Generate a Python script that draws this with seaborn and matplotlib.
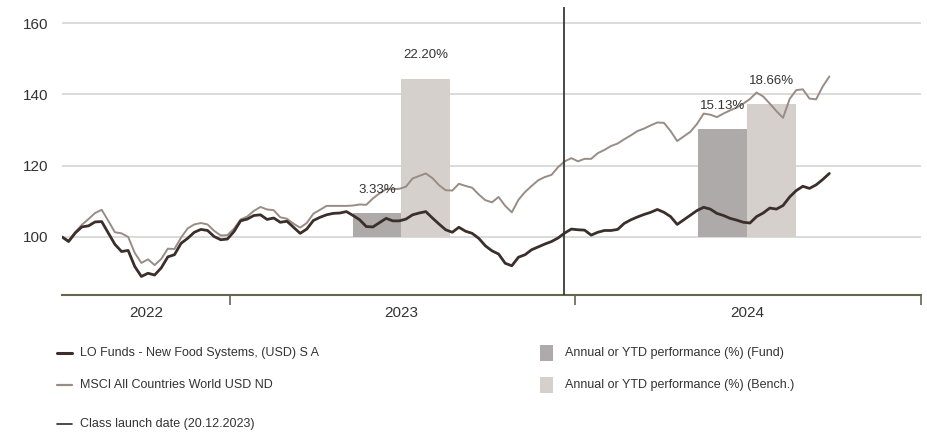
import pandas as pd
import matplotlib.pyplot as plt
from matplotlib.lines import Line2D
from matplotlib.patches import Rectangle
import seaborn as sns

# weekly rebased values (start = 100)
start_date = '2022-07-07'
fund_values = [
    100.0, 98.7, 101.1, 102.8, 103.1, 104.2, 104.3, 101.1, 97.9, 95.9,
    96.2, 91.7, 88.9, 89.8, 89.3, 91.3, 94.4, 95.0, 98.2, 99.6,
    101.3, 102.1, 101.8, 100.1, 99.2, 99.4, 101.5, 104.5, 105.0, 106.0,
    106.2, 104.9, 105.3, 104.1, 104.4, 102.7, 101.0, 102.2, 104.6, 105.5,
    106.2, 106.6, 106.7, 107.1, 106.0, 104.8, 102.9, 102.8, 104.0, 105.2,
    104.5, 104.5, 105.0, 106.2, 106.7, 107.1, 105.3, 103.6, 102.0, 101.3,
    102.7, 101.6, 101.0, 99.6, 97.5, 96.1, 95.2, 92.6, 91.9, 94.3,
    95.0, 96.4, 97.2, 98.0, 98.7, 99.7, 101.1, 102.2, 102.0, 101.9,
    100.5, 101.3, 101.8, 101.8, 102.1, 103.8, 104.8, 105.6, 106.3, 106.9,
    107.7, 106.9, 105.7, 103.5, 104.8, 106.1, 107.4, 108.3, 107.8, 106.6,
    106.0, 105.2, 104.7, 104.1, 103.9, 105.7, 106.7, 108.1, 107.8, 108.8,
    111.2, 113.0, 114.2, 113.6, 114.6, 116.1, 117.8,
]
bench_values = [
    100.0, 99.0, 101.3, 103.4, 105.0, 106.7, 107.6, 104.5, 101.3, 101.0,
    100.0, 95.5, 92.7, 93.7, 92.1, 93.8, 96.7, 96.6, 99.8, 102.4,
    103.5, 103.9, 103.5, 101.7, 100.4, 100.5, 102.3, 104.9, 105.7, 107.3,
    108.4, 107.7, 107.5, 105.5, 105.1, 103.7, 102.6, 103.9, 106.5, 107.6,
    108.7, 108.7, 108.7, 108.7, 108.8, 109.1, 109.0, 110.8, 112.2, 113.4,
    113.4, 113.5, 114.1, 116.4, 117.1, 117.8, 116.5, 114.5, 113.1, 113.0,
    114.9, 114.3, 113.8, 111.9, 110.3, 109.7, 111.2, 108.7, 106.9, 110.4,
    112.6, 114.3, 115.9, 116.8, 117.4, 119.6, 121.2, 122.1, 121.2, 121.9,
    121.9, 123.5, 124.4, 125.5, 126.2, 127.4, 128.5, 129.7, 130.4, 131.3,
    132.1, 132.0, 129.7, 126.9, 128.2, 129.5, 131.7, 134.6, 134.3, 133.6,
    134.6, 135.5, 136.3, 137.4, 138.7, 140.5, 139.4, 137.4, 135.3, 133.4,
    138.7, 141.2, 141.4, 138.8, 138.6, 142.2, 145.0,
]

# annual / YTD performance bars
perf_years = ['2023', '2024']
perf_mid = ['2023-07-01', '2024-07-01']
perf_fund = [3.33, 15.13]
perf_bench = [22.20, 18.66]

launch_date = '2023-12-20'
fund_label = 'LO Funds - New Food Systems, (USD) S A'
bench_label = 'MSCI All Countries World USD ND'
launch_label = 'Class launch date (20.12.2023)'
bar_fund_label = 'Annual or YTD performance (%) (Fund)'
bar_bench_label = 'Annual or YTD performance (%) (Bench.)'

C_FUND = '#3b2f2c'
C_BENCH = '#998c84'
C_BAR_FUND = '#aeaaa9'
C_BAR_BENCH = '#d5d0cc'
C_TEXT = '#333333'
C_AXIS = '#66664f'

sns.set_theme(style='white')
plt.rcParams['font.family'] = ['Liberation Sans', 'DejaVu Sans']

dates = pd.date_range(start_date, periods=len(fund_values), freq='7D')
df = pd.DataFrame({'date': dates, 'fund': fund_values, 'bench': bench_values})

fig = plt.figure(figsize=(9.27, 4.32), dpi=100)
ax = fig.add_axes([62 / 927, 1 - 295 / 432, (921 - 62) / 927, (295 - 7) / 432])

for y in [100, 120, 140, 160]:
    ax.axhline(y, color='#d4d4d4', lw=1.2, zorder=0)

# bars drawn at 100 + 2 x performance, side by side around mid-year
bar_w = pd.Timedelta(days=51.5)
for mid, pf, pb in zip(perf_mid, perf_fund, perf_bench):
    m = pd.Timestamp(mid)
    ax.bar(m - bar_w, 2 * pf, bottom=100, width=bar_w, align='edge',
           color=C_BAR_FUND, lw=0, zorder=1)
    ax.bar(m, 2 * pb, bottom=100, width=bar_w, align='edge',
           color=C_BAR_BENCH, lw=0, zorder=1)
    for cx, v in [(m - bar_w / 2, pf), (m + bar_w / 2, pb)]:
        ax.annotate(f'{v:.2f}%', (cx, 100 + 2 * v), xytext=(0, 12.5),
                    textcoords='offset points', ha='center', va='bottom',
                    fontsize=9.5, color=C_TEXT, zorder=4)

sns.lineplot(data=df, x='date', y='bench', ax=ax, color=C_BENCH, lw=1.4, zorder=2)
sns.lineplot(data=df, x='date', y='fund', ax=ax, color=C_FUND, lw=2.0, zorder=3)
ax.axvline(pd.Timestamp(launch_date), color='#2b2b2b', lw=1.2, zorder=5)

x0 = pd.Timestamp(start_date)
ax.set_xlim(x0, pd.Timestamp('2025-01-01'))
ax.set_ylim(83.7, 164.5)
ax.set_xlabel('')
ax.set_ylabel('')
ax.set_yticks([100, 120, 140, 160])
ax.tick_params(axis='y', left=False, length=0, pad=10, labelsize=11, labelcolor=C_TEXT)

boundaries = [pd.Timestamp(f'{y}-01-01') for y in (2023, 2024, 2025)]
ax.set_xticks(boundaries)
ax.set_xticklabels([])
ax.tick_params(axis='x', which='major', bottom=True, length=7, width=1.2,
               color=C_AXIS, direction='out')
mids = [x0 + (boundaries[0] - x0) / 2] + [pd.Timestamp(m) for m in perf_mid]
ax.set_xticks(mids, minor=True)
ax.set_xticklabels(['2022'] + perf_years, minor=True)
ax.tick_params(axis='x', which='minor', bottom=False, length=0, pad=8,
               labelsize=11, labelcolor=C_TEXT)

for s in ['top', 'right', 'left']:
    ax.spines[s].set_visible(False)
ax.spines['bottom'].set_color(C_AXIS)
ax.spines['bottom'].set_linewidth(1.5)


def legend_line(x, y, color, lw, text):
    yf = 1 - y / 432
    fig.add_artist(Line2D([x / 927, (x + 15) / 927], [yf, yf], color=color, lw=lw,
                          transform=fig.transFigure))
    fig.text((x + 23) / 927, yf, text, ha='left', va='center', fontsize=9,
             color=C_TEXT)


def legend_box(x, y, color, text):
    fig.add_artist(Rectangle((x / 927, 1 - (y + 8) / 432), 13 / 927, 16 / 432,
                             color=color, lw=0, transform=fig.transFigure))
    fig.text((x + 25) / 927, 1 - y / 432, text, ha='left', va='center', fontsize=9,
             color=C_TEXT)


legend_line(57, 353, C_FUND, 2.2, fund_label)
legend_line(57, 385, C_BENCH, 1.6, bench_label)
legend_line(57, 424, '#2b2b2b', 1.2, launch_label)
legend_box(540, 353, C_BAR_FUND, bar_fund_label)
legend_box(540, 385, C_BAR_BENCH, bar_bench_label)

fig.savefig('out.png', dpi=100)
